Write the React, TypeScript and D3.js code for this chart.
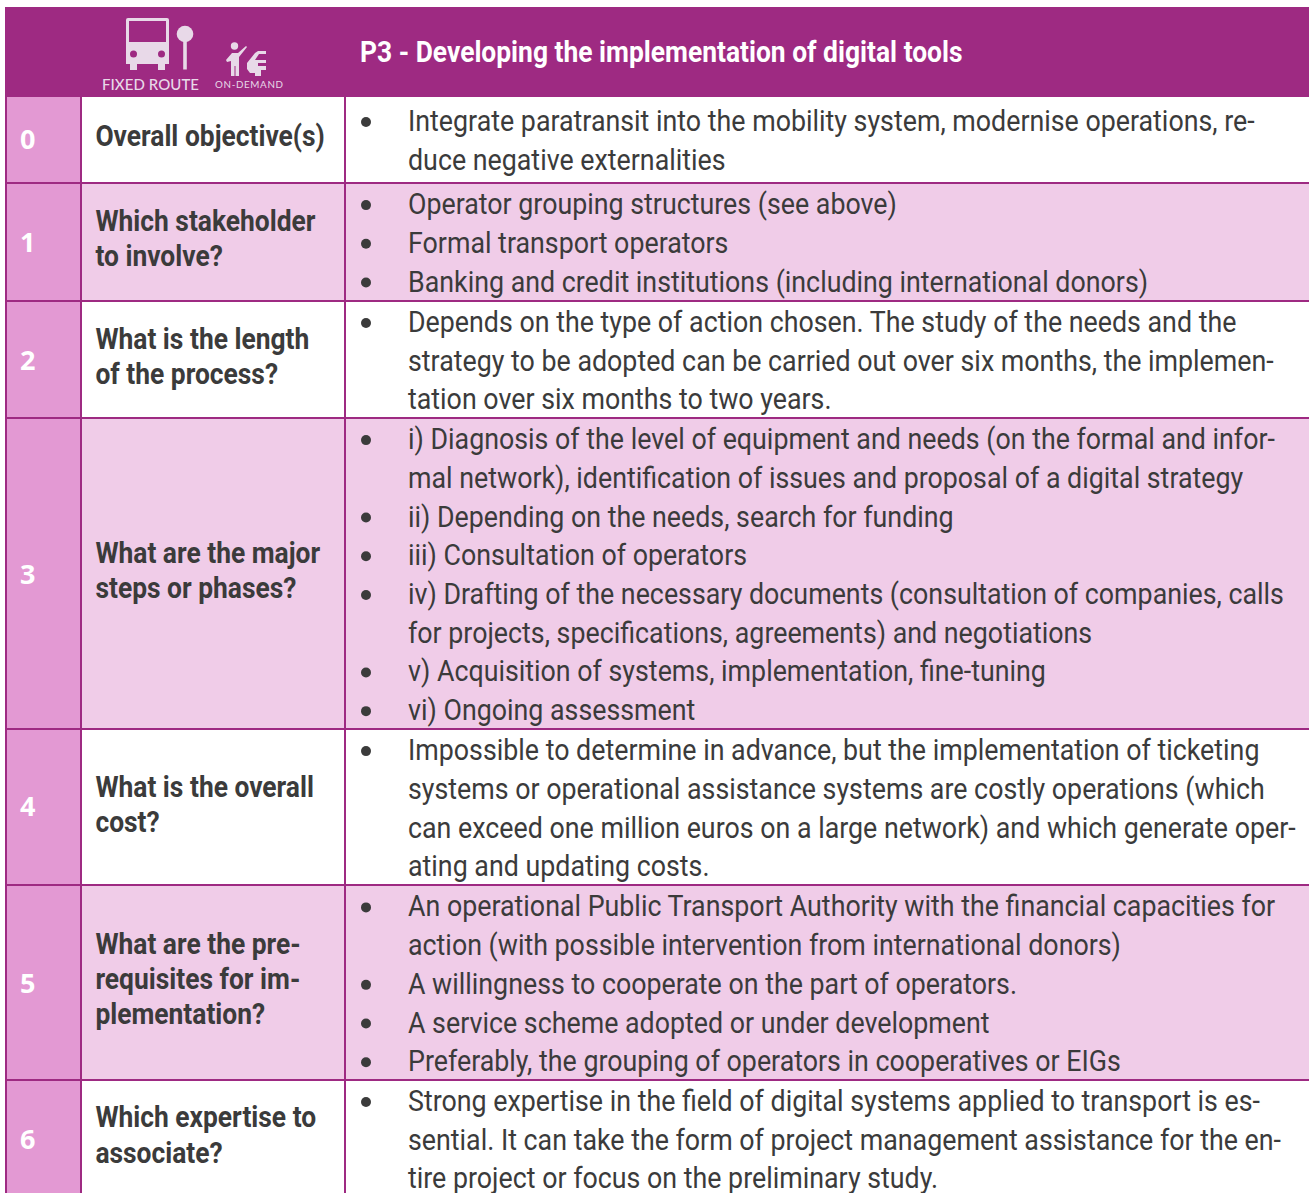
import React from "react";
import * as d3 from "d3";

const PURPLE = "#9E2A82";
const MID = "#E399D3";
const LIGHT = "#F0CCE8";
const INK = "#3B3B3B";
const ICON = "#E8D9E8";

const title = "P3 - Developing the implementation of digital tools";
const rowNumbers = ["0", "1", "2", "3", "4", "5", "6"];
const questions = [
  ["Overall objective(s)"],
  ["Which stakeholder", "to involve?"],
  ["What is the length", "of the process?"],
  ["What are the major", "steps or phases?"],
  ["What is the overall", "cost?"],
  ["What are the pre-", "requisites for im-", "plementation?"],
  ["Which expertise to", "associate?"],
];
// "* " marks a line that opens a bullet
const answers = [
  ["* Integrate paratransit into the mobility system, modernise operations, re-", "duce negative externalities"],
  ["* Operator grouping structures (see above)", "* Formal transport operators", "* Banking and credit institutions (including international donors)"],
  ["* Depends on the type of action chosen. The study of the needs and the", "strategy to be adopted can be carried out over six months, the implemen-", "tation over six months to two years."],
  ["* i) Diagnosis of the level of equipment and needs (on the formal and infor-", "mal network), identification of issues and proposal of a digital strategy", "* ii) Depending on the needs, search for funding", "* iii) Consultation of operators", "* iv) Drafting of the necessary documents (consultation of companies, calls", "for projects, specifications, agreements) and negotiations", "* v) Acquisition of systems, implementation, fine-tuning", "* vi) Ongoing assessment"],
  ["* Impossible to determine in advance, but the implementation of ticketing", "systems or operational assistance systems are costly operations (which", "can exceed one million euros on a large network) and which generate oper-", "ating and updating costs."],
  ["* An operational Public Transport Authority with the financial capacities for", "action (with possible intervention from international donors)", "* A willingness to cooperate on the part of operators.", "* A service scheme adopted or under development", "* Preferably, the grouping of operators in cooperatives or EIGs"],
  ["* Strong expertise in the field of digital systems applied to transport is es-", "sential. It can take the form of project management assistance for the en-", "tire project or focus on the preliminary study."],
];

const W = 1309, H = 1193;
const rowEdges = [97, 183, 301, 418, 729, 885, 1080, 1230];
const firstBaselines = [131, 214.1, 332, 449.1, 760.1, 916.4, 1111];
const questionCentres = [136, 237.8, 356.2, 570.2, 803.8, 978.6, 1134.6];
const numberCentres = [139, 242, 360, 574, 806, 983, 1139];
const LINE = 38.72, QLINE = 35.4;
const X0 = 5, X1 = 81, X2 = 345;

const fillScale = d3.scaleOrdinal<number, string>().domain([0, 1]).range(["#FFFFFF", LIGHT]);
const bodySX = 0.9245, qSX = 0.91, titleSX = 0.911;

function Squeezed({ x, y, sx, children, ...rest }: any) {
  return <text transform={`translate(${x},${y}) scale(${sx},1)`} {...rest}>{children}</text>;
}

const line = d3.line();

function Icons() {
  const person: [number, number][] = [[232, 53], [238, 53], [246, 46], [247, 47], [239, 57], [239, 76], [235.5, 76], [235.5, 66], [234.5, 66], [234.5, 76], [231, 76], [231, 61], [227, 62], [226, 60]];
  const car: [number, number][] = [[266, 51], [266, 54], [259, 54], [255, 60], [266, 60], [266, 63], [258, 63], [258, 66], [266, 66], [266, 70], [261, 70], [261, 76], [255, 76], [255, 73], [250, 73], [247, 69], [247, 63], [255, 53], [258, 51]];
  return (
    <g fill={ICON}>
      <path fillRule="evenodd" d="M128,18 H167 a2,2 0 0 1 2,2 V64 H165 V70 H158 V64 H137 V70 H130 V64 H126 V20 a2,2 0 0 1 2,-2 Z M129,21 V42 H166 V21 Z" />
      <circle cx={133.5} cy={54} r={3.5} fill={PURPLE} />
      <circle cx={161.5} cy={54} r={3.5} fill={PURPLE} />
      <circle cx={185} cy={34} r={8.3} />
      <rect x={183.2} y={40} width={3.6} height={29.5} />
      <circle cx={234.5} cy={46} r={3.7} />
      <path d={line(person) + "Z"} />
      <path d={line(car) + "Z"} />
      <text x={102} y={89.5} fontFamily="Lato" fontWeight={500} fontSize={15} textLength={97} lengthAdjust="spacing">FIXED ROUTE</text>
      <text x={215} y={88} fontFamily="Lato" fontSize={9.8} textLength={68} lengthAdjust="spacing">ON-DEMAND</text>
    </g>
  );
}

export default function App() {
  const rows = d3.pairs(rowEdges);
  return (
    <svg width={W} height={H} viewBox={`0 0 ${W} ${H}`} style={{ position: "absolute", left: 0, top: 0, display: "block", background: "#fff" }}>
      <rect x={X0} y={7} width={W - X0} height={90} fill={PURPLE} />
      <Icons />
      <Squeezed x={360} y={62} sx={titleSX} fontFamily="Roboto" fontWeight={700} fontSize={29} fill="#fff">{title}</Squeezed>
      {rows.map(([top, bottom], i) => (
        <g key={i}>
          <rect x={X2} y={top} width={W - X2} height={bottom - top} fill={fillScale(i % 2)} />
          <rect x={X1} y={top} width={X2 - X1} height={bottom - top} fill={fillScale(i % 2)} />
          <rect x={X0} y={top} width={X1 - X0} height={bottom - top} fill={MID} />
        </g>
      ))}
      {rowEdges.slice(1, -1).map((y) => (
        <line key={y} x1={X0} x2={W} y1={y} y2={y} stroke={PURPLE} strokeWidth={2} />
      ))}
      {[X0 + 1, X1, X2].map((x) => (
        <line key={x} x1={x} x2={x} y1={97} y2={H} stroke={PURPLE} strokeWidth={2} />
      ))}
      {rowNumbers.map((n, i) => (
        <text key={n} x={20} y={numberCentres[i]} dy="0.36em" fontFamily="Open Sans" fontWeight={700} fontSize={27} fill="#fff">{n}</text>
      ))}
      {questions.map((ls, i) => ls.map((t, j) => (
        <Squeezed key={t} x={95.4} y={questionCentres[i] + (j - (ls.length - 1) / 2) * QLINE} dy="0.36em" sx={qSX} fontFamily="Roboto" fontWeight={700} fontSize={29} fill={INK}>{t}</Squeezed>
      )))}
      {answers.map((ls, i) => ls.map((t, j) => {
        const y = firstBaselines[i] + j * LINE;
        const bullet = t.startsWith("* ");
        return (
          <g key={t}>
            {bullet && <circle cx={366} cy={y - 9} r={5} fill={INK} />}
            <Squeezed x={408} y={y} sx={bodySX} fontFamily="Roboto" fontWeight={400} fontSize={29} fill={INK}>{bullet ? t.slice(2) : t}</Squeezed>
          </g>
        );
      }))}
    </svg>
  );
}
